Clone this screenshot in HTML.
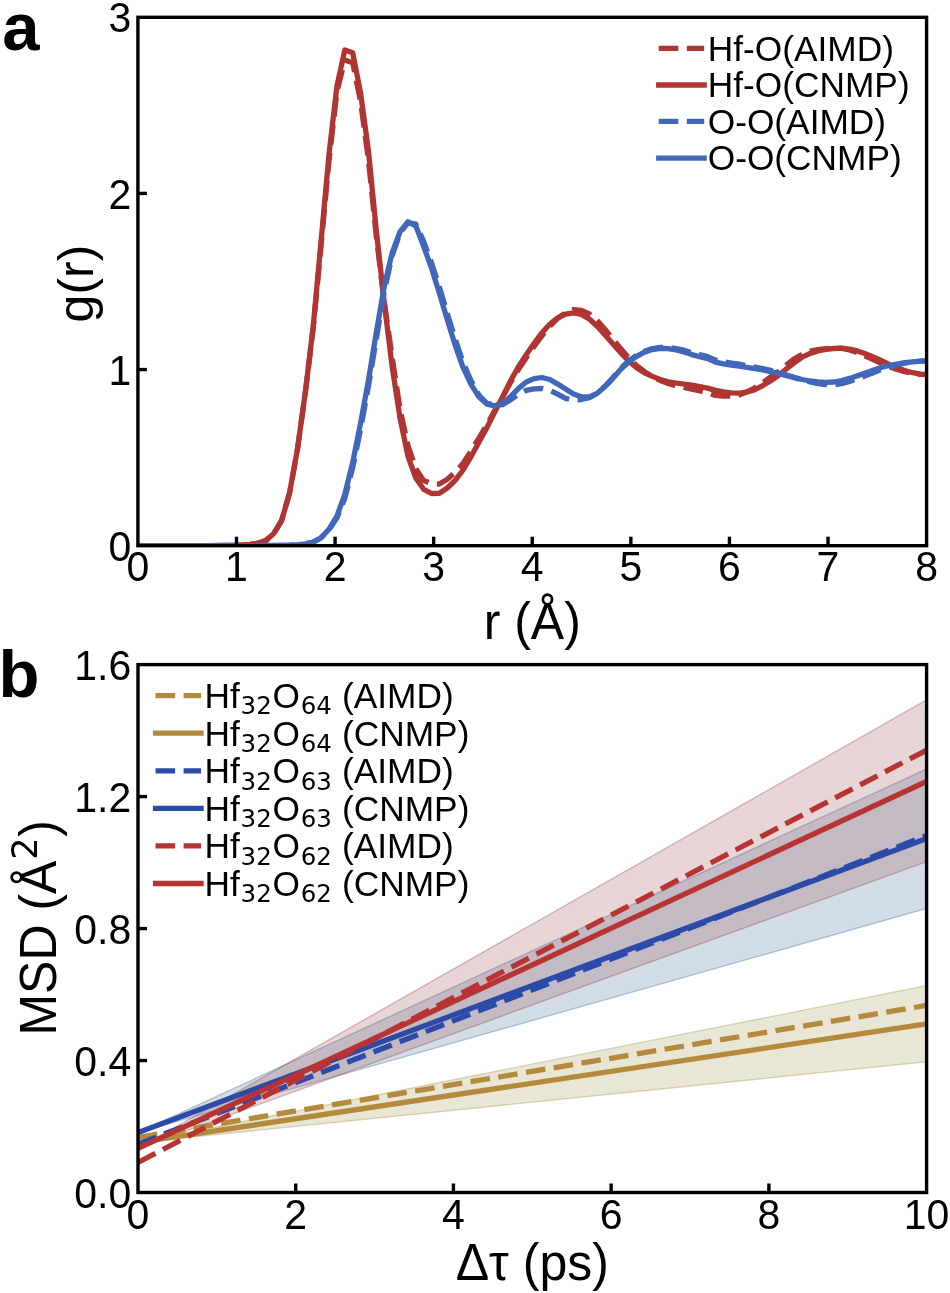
<!DOCTYPE html>
<html lang="en"><head><meta charset="utf-8"><title>Figure</title>
<style>
html,body{margin:0;padding:0;background:#fff;}
body{width:950px;height:1293px;overflow:hidden;}
svg{display:block;}
text{font-family:"Liberation Sans", sans-serif;fill:#000;}
.tk{font-size:41px;}
.al{font-size:50px;}
.lg{font-size:35.3px;}
.pl{font-size:67px;font-weight:bold;}
.sub{font-family:"DejaVu Sans", "Liberation Sans", sans-serif;font-size:24.5px;}
.sup{font-family:"DejaVu Sans", "Liberation Sans", sans-serif;font-size:35px;}
.ln{fill:none;stroke-width:5.3;stroke-linejoin:round;}
.ds{stroke-dasharray:19.6 8.5;}
.fr{fill:none;stroke:#000;stroke-width:3.4;stroke-linejoin:miter;}
.tick{stroke:#000;stroke-width:3.4;}
</style></head><body>
<svg width="950" height="1293" viewBox="0 0 950 1293">
<rect width="950" height="1293" fill="#fff"/>
<defs>
<clipPath id="ca"><rect x="137.9" y="17.3" width="788.7" height="528.4000000000001"/></clipPath>
<clipPath id="cb"><rect x="138.0" y="664.6" width="788.6" height="527.9"/></clipPath>
</defs>

<g clip-path="url(#ca)">
<path class="ln ds" stroke="#b03532" d="M137.9,545.7 L139.7,545.7 L147.6,545.7 L155.5,545.7 L163.4,545.7 L171.3,545.7 L179.2,545.7 L187.1,545.6 L194.9,545.6 L202.8,545.6 L210.7,545.6 L218.6,545.5 L226.5,545.4 L234.4,545.3 L242.3,545.0 L250.2,544.4 L258.0,543.2 L265.9,540.4 L273.8,533.5 L281.7,520.3 L289.6,492.8 L297.5,449.0 L305.4,392.3 L313.3,327.5 L321.1,245.0 L329.0,160.7 L336.9,91.9 L344.8,59.9 L352.7,62.7 L360.6,101.8 L368.5,160.5 L376.3,236.4 L384.2,301.7 L392.1,356.8 L400.0,408.9 L407.9,445.3 L415.8,468.8 L423.7,480.6 L431.6,483.5 L439.4,484.0 L447.3,479.3 L455.2,472.3 L463.1,463.3 L471.0,451.2 L478.9,438.0 L486.8,425.0 L494.7,410.6 L502.5,397.1 L510.4,382.7 L518.3,369.7 L526.2,357.7 L534.1,346.3 L542.0,335.7 L549.9,326.0 L557.7,318.3 L565.6,312.5 L573.5,309.6 L581.4,310.3 L589.3,314.0 L597.2,320.6 L605.1,329.5 L613.0,339.2 L620.8,348.8 L628.7,357.8 L636.6,365.7 L644.5,371.7 L652.4,376.4 L660.3,380.5 L668.2,383.6 L676.1,385.6 L683.9,387.4 L691.8,389.2 L699.7,390.8 L707.6,392.9 L715.5,395.4 L723.4,396.0 L731.3,396.2 L739.1,395.1 L747.0,391.8 L754.9,387.8 L762.8,382.7 L770.7,376.8 L778.6,371.4 L786.5,364.8 L794.4,358.7 L802.2,354.1 L810.1,351.2 L818.0,349.7 L825.9,348.7 L833.8,348.2 L841.7,348.4 L849.6,350.0 L857.5,352.6 L865.3,356.0 L873.2,359.5 L881.1,363.3 L889.0,366.6 L896.9,369.4 L904.8,371.6 L912.7,373.3 L920.6,374.4 L926.6,374.7"/>
<path class="ln" stroke="#b03532" d="M137.9,545.7 L139.7,545.7 L147.6,545.7 L155.5,545.7 L163.4,545.7 L171.3,545.7 L179.2,545.7 L187.1,545.6 L194.9,545.6 L202.8,545.6 L210.7,545.6 L218.6,545.5 L226.5,545.4 L234.4,545.3 L242.3,545.0 L250.2,544.4 L258.0,543.2 L265.9,540.4 L273.8,533.5 L281.7,520.3 L289.6,492.8 L297.5,449.0 L305.4,391.6 L313.3,325.6 L321.1,240.9 L329.0,154.3 L336.9,86.3 L344.8,50.0 L352.7,52.7 L360.6,93.1 L368.5,151.2 L376.3,230.3 L384.2,302.2 L392.1,366.4 L400.0,417.9 L407.9,456.0 L415.8,478.0 L423.7,489.3 L431.6,493.5 L439.4,493.3 L447.3,488.0 L455.2,480.3 L463.1,470.0 L471.0,456.6 L478.9,442.2 L486.8,427.9 L494.7,412.1 L502.5,396.9 L510.4,381.1 L518.3,367.0 L526.2,354.7 L534.1,343.3 L542.0,332.7 L549.9,324.0 L557.7,317.8 L565.6,314.2 L573.5,312.9 L581.4,314.4 L589.3,319.0 L597.2,326.3 L605.1,335.0 L613.0,343.9 L620.8,352.8 L628.7,360.9 L636.6,367.8 L644.5,372.8 L652.4,376.4 L660.3,379.5 L668.2,381.8 L676.1,383.0 L683.9,384.1 L691.8,385.2 L699.7,386.5 L707.6,388.1 L715.5,390.4 L723.4,391.8 L731.3,392.8 L739.1,393.2 L747.0,392.0 L754.9,389.6 L762.8,385.6 L770.7,380.8 L778.6,375.4 L786.5,368.8 L794.4,362.7 L802.2,357.2 L810.1,353.4 L818.0,350.9 L825.9,349.4 L833.8,348.5 L841.7,348.2 L849.6,349.1 L857.5,350.9 L865.3,353.7 L873.2,356.9 L881.1,360.4 L889.0,364.3 L896.9,367.8 L904.8,370.6 L912.7,372.7 L920.6,374.1 L926.6,374.7"/>
<path class="ln ds" stroke="#4067b9" d="M137.9,545.7 L139.7,545.7 L147.6,545.7 L155.5,545.7 L163.4,545.7 L171.3,545.7 L179.2,545.7 L187.1,545.7 L194.9,545.7 L202.8,545.7 L210.7,545.7 L218.6,545.7 L226.5,545.7 L234.4,545.6 L242.3,545.6 L250.2,545.6 L258.0,545.6 L265.9,545.5 L273.8,545.4 L281.7,545.3 L289.6,545.2 L297.5,544.8 L305.4,543.8 L313.3,542.1 L321.1,537.7 L329.0,529.7 L336.9,517.9 L344.8,498.3 L352.7,467.7 L360.6,429.2 L368.5,386.0 L376.3,339.0 L384.2,291.8 L392.1,255.9 L400.0,233.1 L407.9,222.7 L415.8,224.1 L423.7,241.6 L431.6,263.2 L439.4,287.0 L447.3,313.4 L455.2,339.1 L463.1,362.6 L471.0,380.6 L478.9,395.1 L486.8,403.3 L494.7,404.8 L502.5,404.7 L510.4,399.9 L518.3,394.4 L526.2,390.3 L534.1,388.9 L542.0,388.5 L549.9,390.5 L557.7,394.2 L565.6,398.3 L573.5,400.2 L581.4,399.5 L589.3,397.7 L597.2,393.2 L605.1,386.0 L613.0,377.5 L620.8,368.3 L628.7,361.0 L636.6,355.4 L644.5,351.2 L652.4,348.6 L660.3,347.4 L668.2,347.4 L676.1,348.5 L683.9,350.2 L691.8,352.6 L699.7,354.7 L707.6,356.6 L715.5,360.1 L723.4,361.9 L731.3,363.1 L739.1,364.2 L747.0,365.6 L754.9,367.0 L762.8,368.5 L770.7,370.3 L778.6,372.5 L786.5,375.0 L794.4,377.6 L802.2,380.0 L810.1,382.0 L818.0,383.6 L825.9,384.6 L833.8,384.9 L841.7,383.6 L849.6,381.4 L857.5,378.7 L865.3,375.8 L873.2,372.7 L881.1,369.7 L889.0,367.1 L896.9,365.0 L904.8,363.1 L912.7,361.8 L920.6,361.2 L926.6,360.8"/>
<path class="ln" stroke="#4067b9" d="M137.9,545.7 L139.7,545.7 L147.6,545.7 L155.5,545.7 L163.4,545.7 L171.3,545.7 L179.2,545.7 L187.1,545.7 L194.9,545.7 L202.8,545.7 L210.7,545.7 L218.6,545.7 L226.5,545.7 L234.4,545.6 L242.3,545.6 L250.2,545.6 L258.0,545.6 L265.9,545.5 L273.8,545.4 L281.7,545.3 L289.6,545.2 L297.5,544.8 L305.4,543.8 L313.3,542.1 L321.1,537.7 L329.0,529.1 L336.9,516.2 L344.8,494.3 L352.7,462.5 L360.6,423.1 L368.5,380.0 L376.3,332.5 L384.2,286.6 L392.1,252.9 L400.0,231.7 L407.9,221.8 L415.8,225.8 L423.7,246.5 L431.6,268.4 L439.4,293.2 L447.3,319.8 L455.2,345.3 L463.1,367.5 L471.0,384.4 L478.9,396.8 L486.8,404.1 L494.7,405.8 L502.5,403.7 L510.4,396.8 L518.3,388.6 L526.2,382.0 L534.1,378.6 L542.0,377.5 L549.9,379.5 L557.7,384.1 L565.6,389.0 L573.5,393.9 L581.4,396.8 L589.3,397.0 L597.2,393.3 L605.1,386.5 L613.0,378.3 L620.8,369.3 L628.7,362.0 L636.6,356.4 L644.5,352.2 L652.4,349.6 L660.3,348.4 L668.2,348.7 L676.1,350.0 L683.9,352.0 L691.8,354.6 L699.7,356.7 L707.6,358.6 L715.5,362.1 L723.4,363.9 L731.3,365.1 L739.1,366.2 L747.0,367.4 L754.9,368.7 L762.8,370.0 L770.7,371.6 L778.6,373.5 L786.5,375.6 L794.4,377.6 L802.2,379.5 L810.1,381.0 L818.0,382.0 L825.9,382.3 L833.8,382.0 L841.7,380.6 L849.6,378.4 L857.5,375.7 L865.3,373.0 L873.2,370.2 L881.1,367.5 L889.0,365.5 L896.9,364.0 L904.8,362.7 L912.7,361.8 L920.6,361.2 L926.6,360.8"/>
</g>
<line class="tick" x1="236.49" y1="545.7" x2="236.49" y2="536.7"/>
<line class="tick" x1="335.08" y1="545.7" x2="335.08" y2="536.7"/>
<line class="tick" x1="433.66" y1="545.7" x2="433.66" y2="536.7"/>
<line class="tick" x1="532.25" y1="545.7" x2="532.25" y2="536.7"/>
<line class="tick" x1="630.84" y1="545.7" x2="630.84" y2="536.7"/>
<line class="tick" x1="729.43" y1="545.7" x2="729.43" y2="536.7"/>
<line class="tick" x1="828.01" y1="545.7" x2="828.01" y2="536.7"/>
<line class="tick" x1="137.9" y1="369.57" x2="146.9" y2="369.57"/>
<line class="tick" x1="137.9" y1="193.43" x2="146.9" y2="193.43"/>
<rect class="fr" x="137.9" y="17.3" width="788.70" height="528.40"/>
<text class="tk" text-anchor="middle" transform="translate(137.90,581.10) scale(1,1.06)">0</text>
<text class="tk" text-anchor="middle" transform="translate(236.49,581.10) scale(1,1.06)">1</text>
<text class="tk" text-anchor="middle" transform="translate(335.08,581.10) scale(1,1.06)">2</text>
<text class="tk" text-anchor="middle" transform="translate(433.66,581.10) scale(1,1.06)">3</text>
<text class="tk" text-anchor="middle" transform="translate(532.25,581.10) scale(1,1.06)">4</text>
<text class="tk" text-anchor="middle" transform="translate(630.84,581.10) scale(1,1.06)">5</text>
<text class="tk" text-anchor="middle" transform="translate(729.43,581.10) scale(1,1.06)">6</text>
<text class="tk" text-anchor="middle" transform="translate(828.01,581.10) scale(1,1.06)">7</text>
<text class="tk" text-anchor="middle" transform="translate(926.60,581.10) scale(1,1.06)">8</text>
<text class="tk" text-anchor="end" transform="translate(131.20,560.80) scale(1,1.06)">0</text>
<text class="tk" text-anchor="end" transform="translate(131.20,384.67) scale(1,1.06)">1</text>
<text class="tk" text-anchor="end" transform="translate(131.20,208.53) scale(1,1.06)">2</text>
<text class="tk" text-anchor="end" transform="translate(131.20,32.40) scale(1,1.06)">3</text>
<text class="al" text-anchor="middle" transform="translate(92.70,283.50) rotate(-90)">g(r)</text>
<text class="al" text-anchor="middle" transform="translate(532.25,639.00) scale(1,1.02)">r (Å)</text>
<text class="pl" transform="translate(2.30,50.00)">a</text>
<line class="ln ds" stroke="#b03532" x1="658.7" y1="48.3" x2="704.2" y2="48.3"/>
<text class="lg" transform="translate(707.70,60.50)">Hf-O(AIMD)</text>
<line class="ln" stroke="#b03532" x1="656.1" y1="85.0" x2="706.8" y2="85.0"/>
<text class="lg" transform="translate(707.70,97.20)">Hf-O(CNMP)</text>
<line class="ln ds" stroke="#4067b9" x1="658.7" y1="121.4" x2="704.2" y2="121.4"/>
<text class="lg" transform="translate(707.70,133.60)">O-O(AIMD)</text>
<line class="ln" stroke="#4067b9" x1="656.1" y1="158.2" x2="706.8" y2="158.2"/>
<text class="lg" transform="translate(707.70,170.40)">O-O(CNMP)</text>
<g clip-path="url(#cb)">
<path d="M138.0,1142.5 L926.6,985.6 L926.6,1061.8 L138.0,1142.5 Z" fill="#96822f" fill-opacity="0.2" stroke="#96822f" stroke-opacity="0.3" stroke-width="1.4"/>
<path d="M138.0,1132.6 L926.6,768.9 L926.6,908.4 L138.0,1132.6 Z" fill="#23558c" fill-opacity="0.2" stroke="#23558c" stroke-opacity="0.3" stroke-width="1.4"/>
<path d="M138.0,1148.4 L926.6,699.9 L926.6,861.6 L138.0,1148.4 Z" fill="#8c3232" fill-opacity="0.2" stroke="#8c3232" stroke-opacity="0.3" stroke-width="1.4"/>
<line class="ln ds" stroke="#b48b3c" x1="138.0" y1="1137.4" x2="926.6" y2="1005.4"/>
<line class="ln" stroke="#b48b3c" x1="138.0" y1="1142.5" x2="926.6" y2="1023.9"/>
<line class="ln ds" stroke="#2c4ba8" x1="138.0" y1="1144.3" x2="926.6" y2="835.5"/>
<line class="ln" stroke="#2c4ba8" x1="138.0" y1="1132.6" x2="926.6" y2="838.5"/>
<line class="ln ds" stroke="#b73433" x1="138.0" y1="1162.5" x2="926.6" y2="750.1"/>
<line class="ln" stroke="#b73433" x1="138.0" y1="1148.4" x2="926.6" y2="781.4"/>
</g>
<line class="tick" x1="295.72" y1="1192.5" x2="295.72" y2="1183.5"/>
<line class="tick" x1="453.44" y1="1192.5" x2="453.44" y2="1183.5"/>
<line class="tick" x1="611.16" y1="1192.5" x2="611.16" y2="1183.5"/>
<line class="tick" x1="768.88" y1="1192.5" x2="768.88" y2="1183.5"/>
<line class="tick" x1="138.0" y1="1060.53" x2="147.0" y2="1060.53"/>
<line class="tick" x1="138.0" y1="928.55" x2="147.0" y2="928.55"/>
<line class="tick" x1="138.0" y1="796.58" x2="147.0" y2="796.58"/>
<rect class="fr" x="138.0" y="664.6" width="788.60" height="527.90"/>
<text class="tk" text-anchor="middle" transform="translate(138.00,1228.80) scale(1,1.06)">0</text>
<text class="tk" text-anchor="middle" transform="translate(295.72,1228.80) scale(1,1.06)">2</text>
<text class="tk" text-anchor="middle" transform="translate(453.44,1228.80) scale(1,1.06)">4</text>
<text class="tk" text-anchor="middle" transform="translate(611.16,1228.80) scale(1,1.06)">6</text>
<text class="tk" text-anchor="middle" transform="translate(768.88,1228.80) scale(1,1.06)">8</text>
<text class="tk" text-anchor="middle" transform="translate(926.60,1228.80) scale(1,1.06)">10</text>
<text class="tk" text-anchor="end" transform="translate(131.20,1207.60) scale(1,1.06)">0.0</text>
<text class="tk" text-anchor="end" transform="translate(131.20,1075.62) scale(1,1.06)">0.4</text>
<text class="tk" text-anchor="end" transform="translate(131.20,943.65) scale(1,1.06)">0.8</text>
<text class="tk" text-anchor="end" transform="translate(131.20,811.68) scale(1,1.06)">1.2</text>
<text class="tk" text-anchor="end" transform="translate(131.20,679.70) scale(1,1.06)">1.6</text>
<text class="al" text-anchor="middle" transform="translate(55.60,927.85) rotate(-90) scale(1,1.02)">MSD (Å<tspan class="sup" dy="-18" dx="1">2</tspan><tspan dy="18" dx="0.6">)</tspan></text>
<text class="al" text-anchor="middle" transform="translate(532.30,1279.50) scale(1,1.02)">Δτ (ps)</text>
<text class="pl" transform="translate(-1.50,697.00)">b</text>
<line class="ln ds" stroke="#b48b3c" x1="155.5" y1="695.7" x2="201.0" y2="695.7"/>
<text class="lg" transform="translate(204.50,708.00)">Hf<tspan class="sub" dy="6.4" dx="0.8">32</tspan><tspan dy="-6.4" dx="0.7">O</tspan><tspan class="sub" dy="6.4" dx="0.8">64</tspan><tspan dy="-6.4" dx="0.2"> (AIMD)</tspan></text>
<line class="ln" stroke="#b48b3c" x1="152.9" y1="733.2" x2="203.7" y2="733.2"/>
<text class="lg" transform="translate(204.50,745.55)">Hf<tspan class="sub" dy="6.4" dx="0.8">32</tspan><tspan dy="-6.4" dx="0.7">O</tspan><tspan class="sub" dy="6.4" dx="0.8">64</tspan><tspan dy="-6.4" dx="0.2"> (CNMP)</tspan></text>
<line class="ln ds" stroke="#2c4ba8" x1="155.5" y1="770.8" x2="201.0" y2="770.8"/>
<text class="lg" transform="translate(204.50,783.10)">Hf<tspan class="sub" dy="6.4" dx="0.8">32</tspan><tspan dy="-6.4" dx="0.7">O</tspan><tspan class="sub" dy="6.4" dx="0.8">63</tspan><tspan dy="-6.4" dx="0.2"> (AIMD)</tspan></text>
<line class="ln" stroke="#2c4ba8" x1="152.9" y1="808.4" x2="203.7" y2="808.4"/>
<text class="lg" transform="translate(204.50,820.65)">Hf<tspan class="sub" dy="6.4" dx="0.8">32</tspan><tspan dy="-6.4" dx="0.7">O</tspan><tspan class="sub" dy="6.4" dx="0.8">63</tspan><tspan dy="-6.4" dx="0.2"> (CNMP)</tspan></text>
<line class="ln ds" stroke="#b73433" x1="155.5" y1="845.9" x2="201.0" y2="845.9"/>
<text class="lg" transform="translate(204.50,858.20)">Hf<tspan class="sub" dy="6.4" dx="0.8">32</tspan><tspan dy="-6.4" dx="0.7">O</tspan><tspan class="sub" dy="6.4" dx="0.8">62</tspan><tspan dy="-6.4" dx="0.2"> (AIMD)</tspan></text>
<line class="ln" stroke="#b73433" x1="152.9" y1="883.5" x2="203.7" y2="883.5"/>
<text class="lg" transform="translate(204.50,895.75)">Hf<tspan class="sub" dy="6.4" dx="0.8">32</tspan><tspan dy="-6.4" dx="0.7">O</tspan><tspan class="sub" dy="6.4" dx="0.8">62</tspan><tspan dy="-6.4" dx="0.2"> (CNMP)</tspan></text>
</svg></body></html>
